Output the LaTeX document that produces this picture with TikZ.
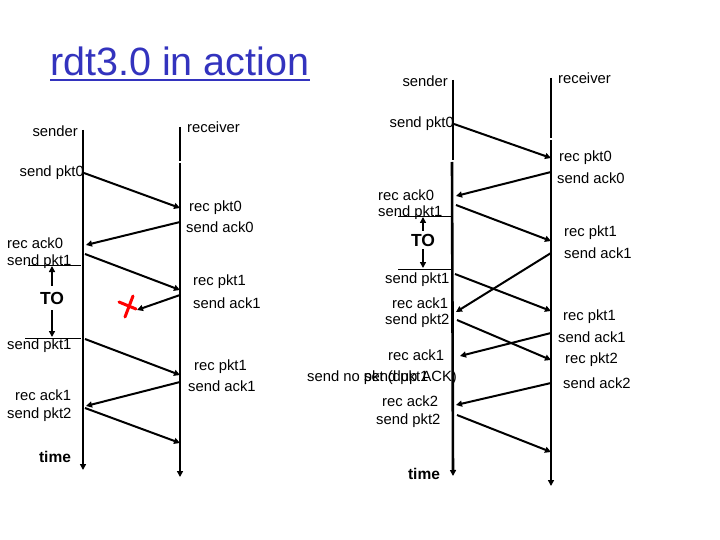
\documentclass[tikz,border=0pt]{standalone}
\usepackage{fontspec}
\setmainfont{Liberation Sans}
\usetikzlibrary{arrows.meta}
\definecolor{titleblue}{RGB}{51,51,190}
\tikzset{
  lbl/.style={inner sep=0pt, font=\fontsize{14.8}{16}\selectfont},
  tl/.style={line width=2.6pt},
  msg/.style={line width=2pt, -{Triangle[length=6pt,width=6pt]}},
  tip/.style={-{Triangle[length=6pt,width=6pt]}},
  bold/.style={inner sep=0pt, font=\fontsize{15.5}{17}\selectfont\bfseries},
  tobold/.style={inner sep=0pt, font=\fontsize{17.5}{19}\selectfont\bfseries},
  thin/.style={line width=0.9pt},
  toarrow/.style={line width=1.8pt, -{Triangle[length=6pt,width=6pt]}}
}
\begin{document}
\begin{tikzpicture}[x=1pt,y=-1pt]
\useasboundingbox (0,0) rectangle (720,540);
% title
\node[anchor=base west, inner sep=0pt, text=titleblue, font=\fontsize{39.5}{44}\selectfont] (title) at (50,76) {rdt3.0 in action};
\draw[titleblue, line width=2pt] ([yshift=-4pt]title.base west) -- ([yshift=-4pt]title.base east);

% ================= LEFT DIAGRAM =================
\coordinate (ls0) at (83,130);  \coordinate (ls1) at (83,470);
\coordinate (lr0) at (180,127); \coordinate (lr1) at (180,477);
\draw[tl, tip] (ls0) -- (ls1);
\draw[tl] (lr0) -- (180,161);
\draw[tl, tip] (180,163) -- (lr1);

\node[lbl, anchor=east] (lsnd) at (78,131) {sender};
\node[lbl, anchor=west] (lrcv) at (187,127) {receiver};

\node[lbl, anchor=east] (l1) at (84,173) {send pkt0};
\node[lbl, anchor=west] (l2) at (189,208) {rec pkt0};
\node[lbl, anchor=west] (l3) at (186,227) {send ack0};
\node[lbl, anchor=west] (l4) at (7,243) {rec ack0};
\node[lbl, anchor=west] (l5) at (7,262) {send pkt1};
\node[lbl, anchor=west] (l6) at (193,282) {rec pkt1};
\node[lbl, anchor=west] (l7) at (193,303) {send ack1};
\node[tobold, anchor=center] (lto) at (52,298) {TO};
\node[lbl, anchor=west] (l8) at (7,346) {send pkt1};
\node[lbl, anchor=west] (l9) at (194,367) {rec pkt1};
\node[lbl, anchor=west] (l10) at (188,386) {send ack1};
\node[lbl, anchor=west] (l11) at (15,395) {rec ack1};
\node[lbl, anchor=west] (l12) at (7,415) {send pkt2};
\node[bold, anchor=center] (ltime) at (55,457) {time};

% message endpoints
\coordinate (a1) at (84,173);  \coordinate (b1) at (180,208);
\coordinate (a2) at (180,222); \coordinate (b2) at (86,245);
\coordinate (a3) at (85,254);  \coordinate (b3) at (180,290);
\coordinate (a4) at (180,295); \coordinate (b4) at (137,310);
\coordinate (a5) at (85,339);  \coordinate (b5) at (180,375);
\coordinate (a6) at (180,382); \coordinate (b6) at (86,406);
\coordinate (a7) at (85,408);  \coordinate (b7) at (180,443);
\foreach \i in {1,...,7} {\draw[msg] (a\i) -- (b\i);}

% lost ack (red x)
\draw[red, line width=3pt, line cap=round] (133,296) -- (125,317);
\draw[red, line width=3pt, line cap=round] (119,302) -- (136,309);

% timeout
\coordinate (lt0a) at (28,265); \coordinate (lt0b) at (81,265);
\coordinate (lt1a) at (25,338); \coordinate (lt1b) at (81,338);
\draw[thin] (lt0a) -- (lt0b);
\draw[thin] (lt1a) -- (lt1b);
\draw[toarrow] (lto.north) ++(0,-6) -- (52,266);
\draw[toarrow] (lto.south) ++(0,6) -- (52,337);

% ================= RIGHT DIAGRAM =================
\coordinate (rs0) at (453,80);  \coordinate (rs1) at (453,476);
\coordinate (rr0) at (551,78);  \coordinate (rr1) at (551,486);
\draw[tl] (rs0) -- (453,160);
\draw[tl, tip] (452,162) -- (rs1);
\draw[tl] (rr0) -- (551,138);
\draw[tl, tip] (551,140) -- (rr1);

\node[lbl, anchor=east] (rsnd) at (448,81) {sender};
\node[lbl, anchor=west] (rrcv) at (558,78) {receiver};

\node[lbl, anchor=east] (r1) at (454,124) {send pkt0};
\node[lbl, anchor=west] (r2) at (559,158) {rec pkt0};
\node[lbl, anchor=west] (r3) at (557,178) {send ack0};
\node[lbl, anchor=west] (r4) at (378,195) {rec ack0};
\node[lbl, anchor=west] (r5) at (378,213) {send pkt1};
\node[tobold, anchor=center] (rto) at (423,240) {TO};
\node[lbl, anchor=west] (r6) at (564,233) {rec pkt1};
\node[lbl, anchor=west] (r7) at (564,253) {send ack1};
\node[lbl, anchor=west] (r8) at (385,280) {send pkt1};
\node[lbl, anchor=west] (r9) at (392,303) {rec ack1};
\node[lbl, anchor=west] (r10) at (385,321) {send pkt2};
\node[lbl, anchor=west] (r11) at (563,317) {rec pkt1};
\node[lbl, anchor=west] (r12) at (558,337) {send ack1};
\node[lbl, anchor=west] (r13) at (565,360) {rec pkt2};
\node[lbl, anchor=west] (r14) at (563,383) {send ack2};
\node[lbl, anchor=west] (r15) at (388,355) {rec ack1};
\node[lbl, anchor=west] (r16) at (307,378) {send no pkt (dup ACK)};
\node[lbl, anchor=west] (r16b) at (364,378) {send pkt1};
\node[lbl, anchor=west] (r17) at (382,401) {rec ack2};
\node[lbl, anchor=west] (r18) at (376,421) {send pkt2};
\node[bold, anchor=center] (rtime) at (424,474) {time};

\coordinate (c1) at (454,124); \coordinate (d1) at (551,158);
\coordinate (c2) at (551,172); \coordinate (d2) at (456,196);
\coordinate (c3) at (456,205); \coordinate (d3) at (551,241);
\coordinate (c4) at (551,253); \coordinate (d4) at (456,312);
\coordinate (c5) at (455,274); \coordinate (d5) at (551,311);
\coordinate (c6) at (551,333); \coordinate (d6) at (460,356);
\coordinate (c7) at (457,320); \coordinate (d7) at (551,360);
\coordinate (c8) at (551,383); \coordinate (d8) at (456,405);
\coordinate (c9) at (457,415); \coordinate (d9) at (551,452);
\foreach \i in {1,...,9} {\draw[msg] (c\i) -- (d\i);}

\coordinate (rt0a) at (398,216); \coordinate (rt0b) at (452,216);
\coordinate (rt1a) at (398,269); \coordinate (rt1b) at (452,269);
\draw[thin] (rt0a) -- (rt0b);
\draw[thin] (rt1a) -- (rt1b);
\draw[toarrow] (rto.north) ++(0,-3) -- (423,217);
\draw[toarrow] (rto.south) ++(0,3) -- (423,268);
\end{tikzpicture}
\end{document}
